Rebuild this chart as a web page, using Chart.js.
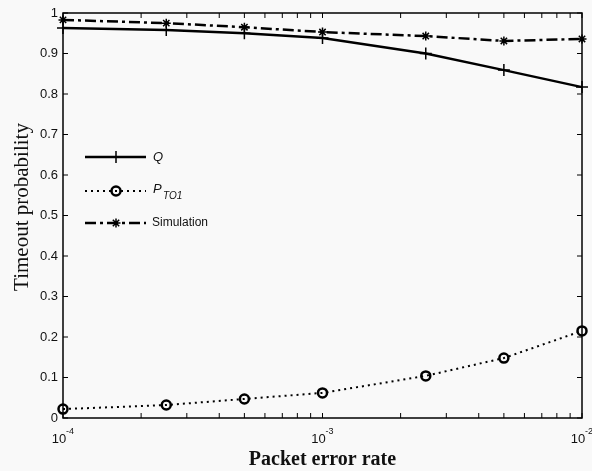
<!DOCTYPE html>
<html>
<head>
<meta charset="utf-8">
<script src="https://cdn.jsdelivr.net/npm/chart.js@4.4.0/dist/chart.umd.min.js"></script>
<style>
  html, body { margin: 0; padding: 0; background: #f9f9f9; }
  #wrap { width: 592px; height: 471px; }
</style>
</head>
<body>
<div id="wrap"><canvas id="grafico" width="592" height="471"></canvas></div>
<script>
// datos
const errorRates = [1e-4, 2.5e-4, 5e-4, 1e-3, 2.5e-3, 5e-3, 1e-2];
const qValues = [0.963, 0.958, 0.950, 0.938, 0.900, 0.859, 0.817];
const pValues = [0.022, 0.032, 0.047, 0.062, 0.104, 0.148, 0.215];
const simValues = [0.983, 0.975, 0.965, 0.953, 0.943, 0.931, 0.936];
const yTickLabels = ['0', '0.1', '0.2', '0.3', '0.4', '0.5', '0.6', '0.7', '0.8', '0.9', '1'];
const xMajorTicks = [1e-4, 1e-3, 1e-2];
const xMajorExponents = ['-4', '-3', '-2'];

function toPoints(values) {
    return errorRates.map(function (x, i) { return { x: x, y: values[i] }; });
}

// ticks menores del eje logarítmico
function logTicks() {
    var ticks = [];
    for (var e = -4; e < -2; e++) {
        for (var m = 1; m < 10; m++) {
            ticks.push({ value: m * Math.pow(10, e), major: m === 1 });
        }
    }
    ticks.push({ value: 1e-2, major: true });
    return ticks;
}

// marco, ticks interiores, etiquetas y leyenda estilo MATLAB
const decoraciones = {
    id: 'decoraciones',
    afterDraw: function (chart) {
        var ctx = chart.ctx;
        var area = chart.chartArea;
        var xs = chart.scales.x;
        var ys = chart.scales.y;
        ctx.save();
        ctx.strokeStyle = '#000';
        ctx.lineWidth = 1.5;
        ctx.strokeRect(area.left, area.top, area.right - area.left, area.bottom - area.top);

        ctx.lineWidth = 1;
        xs.ticks.forEach(function (t) {
            var px = xs.getPixelForValue(t.value);
            var len = 5;
            ctx.beginPath();
            ctx.moveTo(px, area.bottom); ctx.lineTo(px, area.bottom - len);
            ctx.moveTo(px, area.top); ctx.lineTo(px, area.top + len);
            ctx.stroke();
        });
        ys.ticks.forEach(function (t) {
            var py = ys.getPixelForValue(t.value);
            ctx.beginPath();
            ctx.moveTo(area.left, py); ctx.lineTo(area.left + 5, py);
            ctx.moveTo(area.right, py); ctx.lineTo(area.right - 5, py);
            ctx.stroke();
        });

        // etiquetas 10^n
        ctx.fillStyle = '#111';
        xMajorTicks.forEach(function (v, i) {
            var px = xs.getPixelForValue(v);
            ctx.font = '13px "Liberation Sans", Arial, sans-serif';
            ctx.textAlign = 'center';
            ctx.textBaseline = 'alphabetic';
            ctx.fillText('10', px - 4, 443);
            ctx.font = '9px "Liberation Sans", Arial, sans-serif';
            ctx.textAlign = 'left';
            ctx.fillText(xMajorExponents[i], px + 3, 434);
        });

        // títulos de ejes
        ctx.font = 'bold 20px "Liberation Serif", "Times New Roman", serif';
        ctx.textAlign = 'center';
        ctx.fillText('Packet error rate', (area.left + area.right) / 2, 465);
        ctx.save();
        ctx.translate(28, 207);
        ctx.rotate(-Math.PI / 2);
        ctx.font = '21px "Liberation Serif", "Times New Roman", serif';
        ctx.fillText('Timeout probability', 0, 0);
        ctx.restore();

        // leyenda
        var items = chart.data.datasets;
        var rows = [157, 191, 223];
        items.forEach(function (ds, i) {
            var y = rows[i];
            ctx.save();
            ctx.strokeStyle = '#000';
            ctx.fillStyle = ds.backgroundColor;
            ctx.lineWidth = ds.borderWidth;
            ctx.setLineDash(ds.borderDash || []);
            ctx.beginPath();
            ctx.moveTo(85, y); ctx.lineTo(146, y);
            ctx.stroke();
            ctx.setLineDash([]);
            ctx.lineWidth = ds.pointBorderWidth;
            Chart.helpers.drawPoint(ctx, {
                pointStyle: ds.pointStyle, radius: ds.pointRadius, borderWidth: ds.pointBorderWidth
            }, 116, y);
            ctx.restore();
        });
        ctx.fillStyle = '#111';
        ctx.textAlign = 'left';
        ctx.textBaseline = 'middle';
        ctx.font = 'italic 13px "Liberation Sans", Arial, sans-serif';
        ctx.fillText('Q', 153, rows[0]);
        ctx.fillText('P', 153, rows[1] - 2);
        ctx.font = 'italic 10px "Liberation Sans", Arial, sans-serif';
        ctx.fillText('TO1', 163, rows[1] + 5);
        ctx.font = '12px "Liberation Sans", Arial, sans-serif';
        ctx.fillText('Simulation', 152, rows[2]);
        ctx.restore();
    }
};

new Chart(document.getElementById('grafico'), {
    type: 'line',
    data: {
        datasets: [{
            label: 'Q',
            data: toPoints(qValues),
            borderColor: '#000',
            backgroundColor: '#000',
            borderWidth: 2.5,
            pointStyle: 'cross',
            pointRadius: 6,
            pointBorderWidth: 1.5,
            clip: false
        }, {
            label: 'P_TO1',
            data: toPoints(pValues),
            borderColor: '#000',
            backgroundColor: 'rgba(0,0,0,0)',
            borderWidth: 2,
            borderDash: [2, 4],
            pointStyle: 'circle',
            pointRadius: 4.5,
            pointBorderWidth: 2.5,
            clip: false
        }, {
            label: 'Simulation',
            data: toPoints(simValues),
            borderColor: '#000',
            backgroundColor: '#000',
            borderWidth: 2.5,
            borderDash: [11, 4, 3, 4],
            pointStyle: 'star',
            pointRadius: 4.5,
            pointBorderWidth: 1.5,
            clip: false
        }]
    },
    options: {
        responsive: false,
        animation: false,
        layout: { padding: { top: 13, right: 10, left: 0, bottom: 0 } },
        plugins: { legend: { display: false }, tooltip: { enabled: false } },
        scales: {
            x: {
                type: 'logarithmic',
                min: 1e-4,
                max: 1e-2,
                afterBuildTicks: function (scale) { scale.ticks = logTicks(); },
                afterFit: function (scale) { scale.height = 53; },
                grid: { display: false },
                border: { display: false },
                ticks: { display: false }
            },
            y: {
                min: 0,
                max: 1,
                afterBuildTicks: function (scale) {
                    scale.ticks = yTickLabels.map(function (l) { return { value: parseFloat(l) }; });
                },
                afterFit: function (scale) { scale.width = 63; },
                grid: { display: false, drawTicks: false },
                border: { display: false },
                ticks: {
                    padding: 5,
                    color: '#111',
                    font: { family: '"Liberation Sans", Arial, sans-serif', size: 13 },
                    callback: function (v, i) { return yTickLabels[i]; }
                }
            }
        }
    },
    plugins: [decoraciones]
});
</script>
</body>
</html>
